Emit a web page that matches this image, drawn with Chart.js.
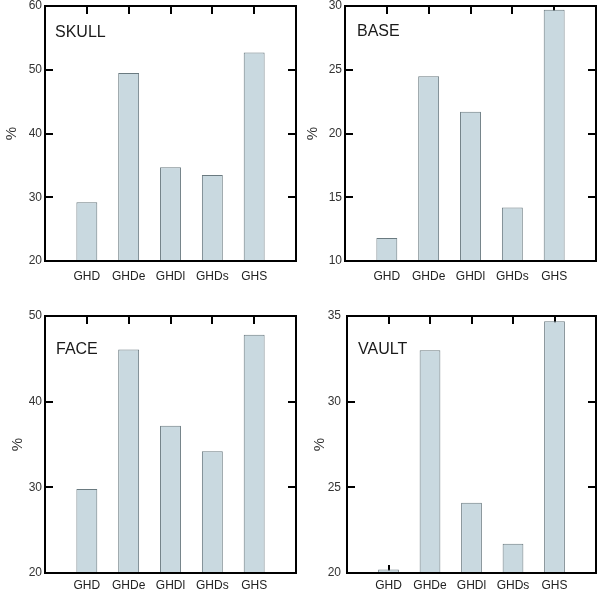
<!DOCTYPE html>
<html>
<head>
<meta charset="utf-8">
<script src="https://cdn.jsdelivr.net/npm/chart.js@4.4.0/dist/chart.umd.min.js"></script>
<style>
body { margin: 0; background: #fff; }
.panel { position: absolute; width: 300px; height: 290px; }
</style>
</head>
<body>
<div class="panel" style="left:0;top:0"><canvas id="skullChart"></canvas></div>
<div class="panel" style="left:300px;top:0"><canvas id="baseChart"></canvas></div>
<div class="panel" style="left:0;top:300px"><canvas id="faceChart"></canvas></div>
<div class="panel" style="left:300px;top:300px"><canvas id="vaultChart"></canvas></div>
<script>
// Datos (porcentajes)
const groups = ['GHD', 'GHDe', 'GHDl', 'GHDs', 'GHS'];
const skull = [29.2, 49.5, 34.7, 33.5, 52.7];
const base = [11.8, 24.5, 21.7, 14.2, 29.7];
const face = [29.8, 46.1, 37.2, 34.2, 47.8];
const vault = [20.2, 33.0, 24.1, 21.7, 34.7];

const skullTicks = [20, 60, 10];
const baseTicks = [10, 30, 5];
const faceTicks = [20, 50, 10];
const vaultTicks = [20, 35, 5];

const TICK = 8;
const FONT = "'Liberation Sans', Arial, sans-serif";

// marco negro con marcas hacia dentro
const frameTicks = {
    id: 'frameTicks',
    beforeDatasetsDraw(chart) {
        const { ctx, chartArea: a, scales: { x, y } } = chart;
        ctx.save();
        ctx.strokeStyle = '#000';
        ctx.lineWidth = 2;
        ctx.beginPath();
        for (let i = 1; i <= groups.length; i++) {
            const px = Math.round(x.getPixelForValue(i));
            ctx.moveTo(px, a.top); ctx.lineTo(px, a.top + TICK);
            ctx.moveTo(px, a.bottom); ctx.lineTo(px, a.bottom - TICK);
        }
        y.ticks.forEach(t => {
            const py = Math.round(y.getPixelForValue(t.value));
            ctx.moveTo(a.left, py); ctx.lineTo(a.left + TICK, py);
            ctx.moveTo(a.right, py); ctx.lineTo(a.right - TICK, py);
        });
        ctx.stroke();
        ctx.restore();
    },
    afterDatasetsDraw(chart, args, opts) {
        const { ctx, chartArea: a } = chart;
        ctx.save();
        ctx.strokeStyle = '#000';
        ctx.lineWidth = 2;
        ctx.strokeRect(a.left, a.top, a.right - a.left, a.bottom - a.top);
        ctx.fillStyle = '#1a1a1a';
        ctx.font = '16px ' + FONT;
        ctx.textBaseline = 'middle';
        ctx.fillText(opts.label, a.left + opts.dx, a.top + opts.dy);
        ctx.restore();
    }
};

function makePanel(id, label, values, range, lay) {
    const ctx = document.getElementById(id).getContext('2d');
    return new Chart(ctx, {
        type: 'bar',
        data: {
            labels: ['', ...groups, ''],
            datasets: [{
                data: [null, ...values, null],
                backgroundColor: '#c9d9e0',
                borderColor: '#6a7a80',
                borderWidth: 1,
                categoryPercentage: 1,
                barPercentage: 0.5
            }]
        },
        options: {
            responsive: true,
            maintainAspectRatio: false,
            animation: false,
            devicePixelRatio: 1,
            layout: { padding: { top: lay.top, right: 4, left: 0, bottom: 0 } },
            plugins: {
                legend: { display: false },
                tooltip: { enabled: false },
                frameTicks: { label: label, dx: lay.dx, dy: lay.dy }
            },
            scales: {
                x: {
                    offset: false,
                    grid: { display: false, drawTicks: false },
                    border: { display: false },
                    ticks: {
                        autoSkip: false, maxRotation: 0, padding: lay.xPad,
                        color: '#222', font: { family: FONT, size: 12 }
                    },
                    afterFit: s => {
                        s.height = lay.xH;
                        s.paddingLeft = 0;
                        s.paddingRight = 0;
                    }
                },
                y: {
                    min: range[0],
                    max: range[1],
                    grid: { display: false, drawTicks: false },
                    border: { display: false },
                    ticks: {
                        stepSize: range[2], padding: lay.yPad,
                        color: '#333', font: { family: FONT, size: 12 }
                    },
                    title: {
                        display: true, text: '%', color: '#333',
                        font: { family: FONT, size: 15 },
                        padding: { top: lay.tPad, bottom: 0 }
                    },
                    afterFit: s => {
                        s.width = lay.yW;
                        s.paddingTop = 0;
                        s.paddingBottom = 0;
                    }
                }
            }
        },
        plugins: [frameTicks]
    });
}

makePanel('skullChart', 'SKULL', skull, skullTicks,
    { top: 6, xH: 29, xPad: 8, yW: 45, yPad: 3, tPad: 3, dx: 10, dy: 27 });
makePanel('baseChart', 'BASE', base, baseTicks,
    { top: 6, xH: 29, xPad: 8, yW: 45, yPad: 3, tPad: 4, dx: 12, dy: 26 });
makePanel('faceChart', 'FACE', face, faceTicks,
    { top: 16, xH: 17, xPad: 5, yW: 45, yPad: 3, tPad: 9, dx: 11, dy: 34 });
makePanel('vaultChart', 'VAULT', vault, vaultTicks,
    { top: 16, xH: 17, xPad: 5, yW: 47, yPad: 6, tPad: 11, dx: 11, dy: 34 });
</script>
</body>
</html>
